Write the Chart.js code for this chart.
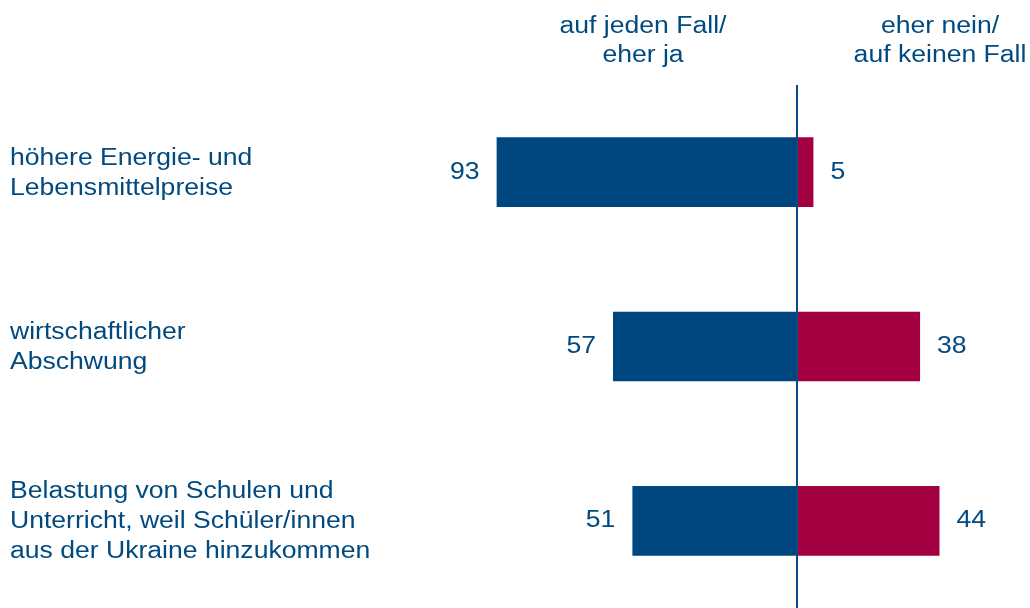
<!DOCTYPE html>
<html>
<head>
<meta charset="utf-8">
<script src="https://cdn.jsdelivr.net/npm/chart.js@4/dist/chart.umd.min.js"></script>
<style>
  html, body { margin: 0; padding: 0; background: #fff; overflow: hidden; }
  #wrap { width: 1030px; height: 608px; }
</style>
</head>
<body>
<div id="wrap"><canvas id="threatChart" width="1030" height="608"></canvas></div>
<script>
// Survey items and answer shares (percent)
const categories = [
  ['höhere Energie- und', 'Lebensmittelpreise'],
  ['wirtschaftlicher', 'Abschwung'],
  ['Belastung von Schulen und', 'Unterricht, weil Schüler/innen', 'aus der Ukraine hinzukommen']
];
const yesValues = [93, 57, 51];
const noValues = [5, 38, 44];
const headerYes = ['auf jeden Fall/', 'eher ja'];
const headerNo = ['eher nein/', 'auf keinen Fall'];

const textColor = '#004a80';
const blue = '#004780';
const red = '#a30041';
const font = '23px "Liberation Sans", Arial, sans-serif';
const stretch = 1.155;   // the lettering is set slightly wide
const lineGap = 30;

function wideText(ctx, str, x, y, align) {
  ctx.save();
  ctx.translate(x, y);
  ctx.scale(stretch, 1);
  ctx.textAlign = align;
  ctx.fillText(str, 0, 0);
  ctx.restore();
}

// category labels, value labels, zero line and column headers
const overlay = {
  id: 'overlay',
  afterDatasetsDraw(chart) {
    const ctx = chart.ctx;
    const x = chart.scales.x;
    const y = chart.scales.y;
    const area = chart.chartArea;
    ctx.save();

    // zero line
    const x0 = Math.round(x.getPixelForValue(0));
    ctx.strokeStyle = '#0b4a85';
    ctx.lineWidth = 2;
    ctx.beginPath();
    ctx.moveTo(x0, area.top);
    ctx.lineTo(x0, chart.height);
    ctx.stroke();

    ctx.font = font;
    ctx.fillStyle = textColor;
    ctx.textBaseline = 'middle';

    categories.forEach((lines, i) => {
      const cy = y.getPixelForTick(i) + 1;
      lines.forEach((line, j) => {
        wideText(ctx, line, 10, cy + (j - (lines.length - 1) / 2) * lineGap, 'left');
      });
    });

    chart.getDatasetMeta(0).data.forEach((bar, i) => {
      wideText(ctx, String(yesValues[i]), bar.x - 17, bar.y, 'right');
    });
    chart.getDatasetMeta(1).data.forEach((bar, i) => {
      wideText(ctx, String(noValues[i]), bar.x + 17, bar.y, 'left');
    });

    // headers
    headerYes.forEach((line, i) => wideText(ctx, line, 643, 27 + i * 29, 'center'));
    headerNo.forEach((line, i) => wideText(ctx, line, 940, 27 + i * 29, 'center'));
    ctx.restore();
  }
};

new Chart(document.getElementById('threatChart'), {
  type: 'bar',
  data: {
    labels: categories,
    datasets: [
      {
        label: 'auf jeden Fall/eher ja',
        data: yesValues.map(v => -v),
        backgroundColor: blue,
        categoryPercentage: 1,
        barPercentage: 0.4
      },
      {
        label: 'eher nein/auf keinen Fall',
        data: noValues,
        backgroundColor: red,
        categoryPercentage: 1,
        barPercentage: 0.4
      }
    ]
  },
  options: {
    indexAxis: 'y',
    responsive: false,
    animation: false,
    devicePixelRatio: 1,
    layout: { padding: { left: 10, top: 85, right: 0, bottom: 0 } },
    plugins: {
      legend: { display: false },
      tooltip: { enabled: false }
    },
    scales: {
      x: {
        stacked: true,
        min: -100,
        max: 72,
        display: false
      },
      y: {
        stacked: true,
        grid: { display: false },
        border: { display: false },
        ticks: { display: false },
        afterFit(scale) { scale.width = 464; }
      }
    }
  },
  plugins: [overlay]
});
</script>
</body>
</html>
